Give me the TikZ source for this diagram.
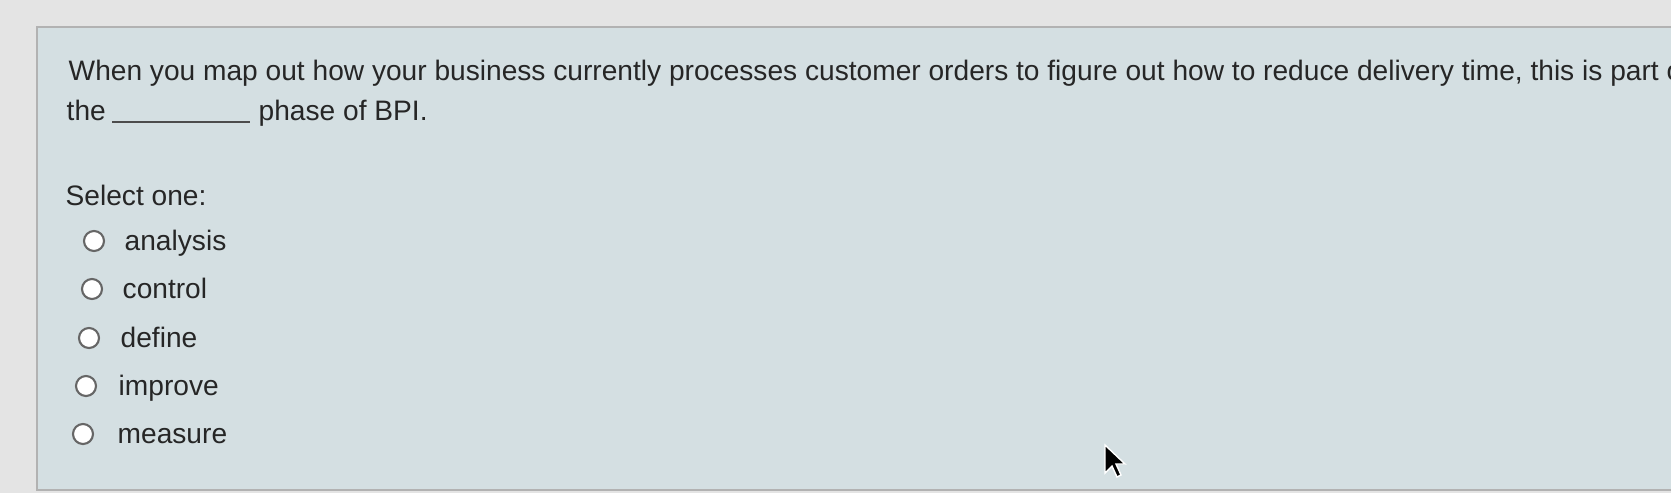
\documentclass[tikz,border=0pt]{standalone}
\usepackage{fontspec}
\setmainfont{Liberation Sans}
\begin{document}
\begin{tikzpicture}[x=0.01cm,y=-0.01cm,
  txt/.style={anchor=base west,inner sep=0pt,font=\fontsize{8.0}{9}\selectfont,text=black!85},
  radio/.style={circle,draw=black!60,fill=white,line width=0.6pt,minimum size=0.2cm,inner sep=0pt}]
\clip (0,0) rectangle (1671,493);
\fill[black!5!gray!20] (0,0) rectangle (1671,493);
\draw[draw=gray!60,fill={rgb,255:red,212;green,223;blue,226}] (37,27) rectangle (1700,490);
\node[txt] (q1) at (68,80) {When you map out how your business currently processes customer orders to figure out how to reduce delivery time, this is part of};
\node[txt] (q2) at (66,120) {the};
\draw[black!70,line width=0.5pt] (112,122) -- (250,122);
\node[txt] (q3) at (258,120) {phase of BPI.};
\node[txt] (sel) at (65,205) {Select one:};
\node[radio] (r1) at (94,241) {}; \node[txt] (o1) at (124,250) {analysis};
\node[radio] (r2) at (92,289) {}; \node[txt] (o2) at (122,298) {control};
\node[radio] (r3) at (89,338) {}; \node[txt] (o3) at (120,347) {define};
\node[radio] (r4) at (86,386) {}; \node[txt] (o4) at (118,395) {improve};
\node[radio] (r5) at (83,434) {}; \node[txt] (o5) at (117,443) {measure};
\fill[black,draw=white,line width=0.4pt] (1105,445) -- (1105,473) -- (1112,466) -- (1117,477) -- (1121,475) -- (1116,464) -- (1125,464) -- cycle;
\end{tikzpicture}
\end{document}
